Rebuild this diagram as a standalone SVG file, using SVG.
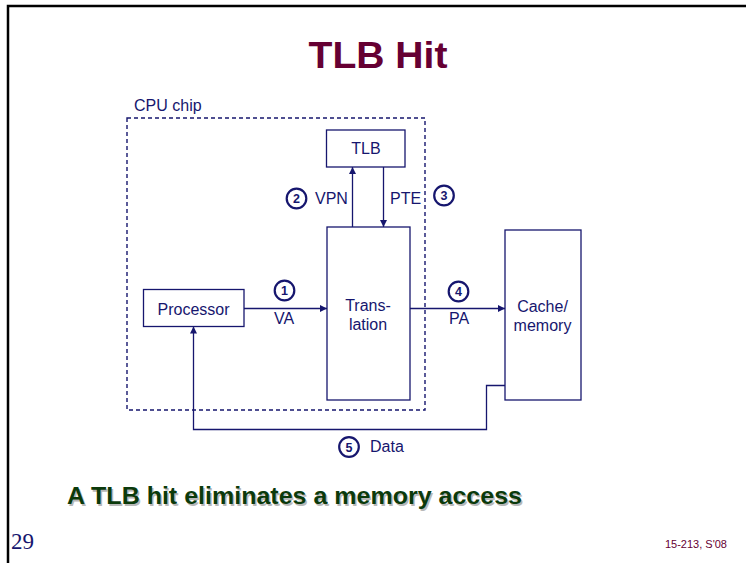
<svg xmlns="http://www.w3.org/2000/svg" width="746" height="563" viewBox="0 0 746 563">
  <style>
    .box { fill: #ffffff; stroke: #16166e; stroke-width: 1.3; }
    .lbl { font-family: "Liberation Sans", Arial, sans-serif; font-size: 16px; fill: #16166e; }
    .num { font-family: "Liberation Sans", Arial, sans-serif; font-size: 12.5px; font-weight: bold; fill: #16166e; text-anchor: middle; }
    .step { fill: #ffffff; stroke: #16166e; stroke-width: 2.2; }
    .wire { fill: none; stroke: #16166e; stroke-width: 1.3; }
    .mid { text-anchor: middle; }
    .take { font-family: "Liberation Sans", Arial, sans-serif; font-size: 24px; font-weight: bold; }
  </style>
  <defs>
    <marker id="arrow" viewBox="0 0 10 10" refX="10" refY="5" markerWidth="7" markerHeight="7" markerUnits="userSpaceOnUse" orient="auto">
      <path d="M0,0 L10,5 L0,10 z" fill="#16166e"/>
    </marker>
  </defs>

  <rect width="746" height="563" fill="#ffffff"/>
  <!-- slide frame -->
  <path d="M8,563 L8,6 L746,6" fill="none" stroke="#000000" stroke-width="2.5"/>

  <!-- title -->
  <text x="378" y="68" text-anchor="middle" font-family="Liberation Sans, Arial, sans-serif" font-size="37" font-weight="bold" fill="#660033" textLength="139" lengthAdjust="spacingAndGlyphs">TLB Hit</text>

  <!-- CPU chip boundary -->
  <g id="cpu-chip">
    <text class="lbl" x="134" y="111" font-size="15.5">CPU chip</text>
    <rect x="127" y="118" width="298" height="292" fill="none" stroke="#16166e" stroke-width="1.4" stroke-dasharray="4,3"/>
  </g>

  <g id="tlb">
    <rect class="box" x="326.5" y="130" width="78.5" height="37"/>
    <text class="lbl mid" x="366" y="154">TLB</text>
  </g>

  <g id="translation">
    <rect class="box" x="327" y="227" width="83" height="173"/>
    <text class="lbl mid" x="368" y="311">Trans-</text>
    <text class="lbl mid" x="368" y="330">lation</text>
  </g>

  <g id="processor">
    <rect class="box" x="143.5" y="289.5" width="100.5" height="37"/>
    <text class="lbl mid" x="193.5" y="314.5">Processor</text>
  </g>

  <g id="cache-memory">
    <rect class="box" x="505" y="230" width="76" height="170"/>
    <text class="lbl mid" x="542.5" y="312">Cache/</text>
    <text class="lbl mid" x="542.5" y="331">memory</text>
  </g>

  <!-- connectors -->
  <g id="connectors">
    <line class="wire" x1="352.5" y1="227" x2="352.5" y2="167" marker-end="url(#arrow)"/>
    <line class="wire" x1="383.5" y1="167" x2="383.5" y2="227" marker-end="url(#arrow)"/>
    <line class="wire" x1="244" y1="308.5" x2="327" y2="308.5" marker-end="url(#arrow)"/>
    <line class="wire" x1="410" y1="308.5" x2="505" y2="308.5" marker-end="url(#arrow)"/>
    <polyline class="wire" points="505,385.5 486.5,385.5 486.5,429.5 193.5,429.5 193.5,326.5" marker-end="url(#arrow)"/>
  </g>

  <!-- step markers and connector labels -->
  <g id="step-1">
    <circle class="step" cx="284.5" cy="290.5" r="9.8"/>
    <text class="num" x="284.5" y="295">1</text>
    <text class="lbl mid" x="284" y="324">VA</text>
  </g>
  <g id="step-2">
    <circle class="step" cx="296.5" cy="198.5" r="9.8"/>
    <text class="num" x="296.5" y="203">2</text>
    <text class="lbl" x="315" y="203.5">VPN</text>
  </g>
  <g id="step-3">
    <text class="lbl" x="390" y="203.5">PTE</text>
    <circle class="step" cx="444" cy="195.5" r="9.8"/>
    <text class="num" x="444" y="200">3</text>
  </g>
  <g id="step-4">
    <circle class="step" cx="458.5" cy="291.5" r="9.8"/>
    <text class="num" x="458.5" y="296">4</text>
    <text class="lbl mid" x="459" y="324">PA</text>
  </g>
  <g id="step-5">
    <circle class="step" cx="349" cy="447" r="9.8"/>
    <text class="num" x="349" y="451.5">5</text>
    <text class="lbl" x="370" y="452">Data</text>
  </g>

  <!-- takeaway with drop shadow -->
  <text class="take" x="68.5" y="505.5" fill="#b8b8b8" textLength="455" lengthAdjust="spacingAndGlyphs">A TLB hit eliminates a memory access</text>
  <text class="take" x="67" y="504" fill="#0b3a0b" textLength="455" lengthAdjust="spacingAndGlyphs">A TLB hit eliminates a memory access</text>

  <!-- footer -->
  <text x="11" y="549" font-family="Liberation Serif, 'Times New Roman', serif" font-size="23" fill="#16166e">29</text>
  <text x="727" y="548" text-anchor="end" font-family="Liberation Sans, Arial, sans-serif" font-size="11" fill="#660033">15-213, S'08</text>
</svg>
